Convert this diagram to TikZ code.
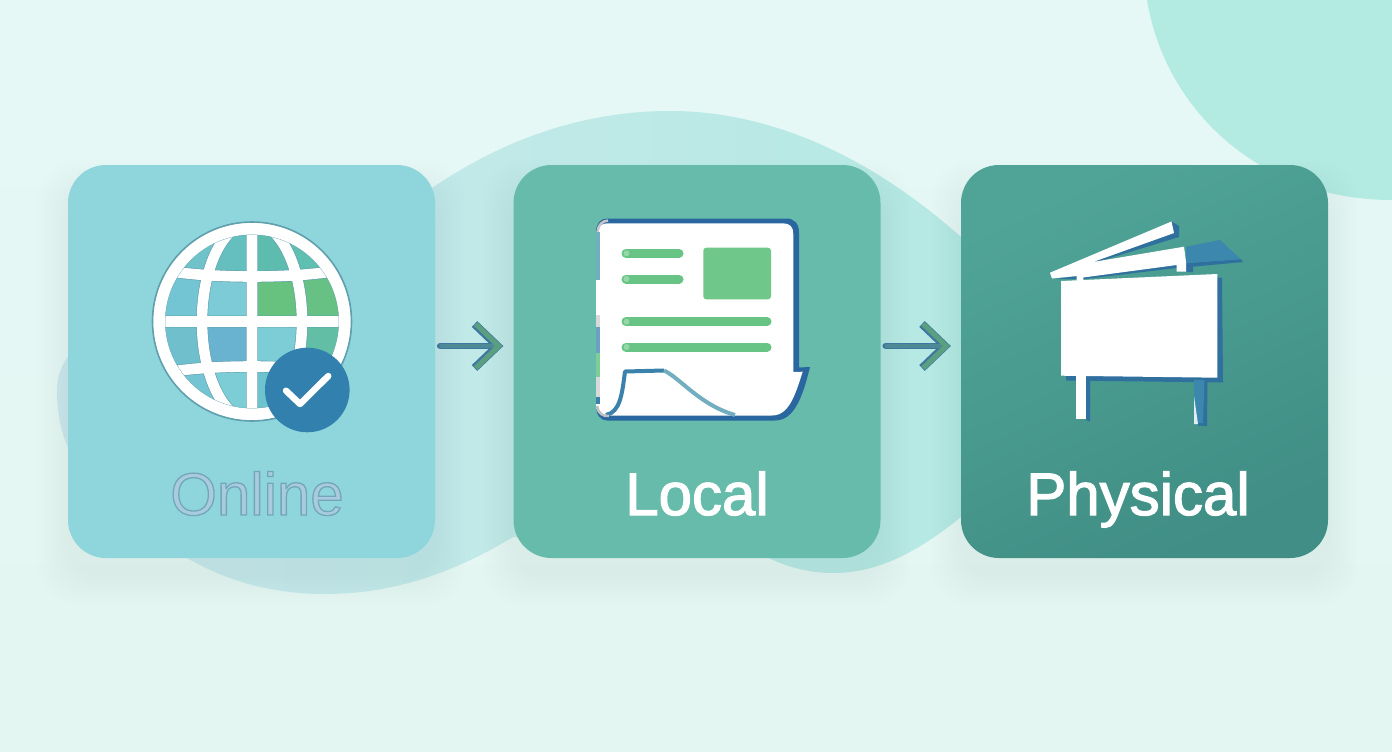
\documentclass[tikz,border=0pt]{standalone}
\usepackage{xcolor}
\usepackage{fontspec}
\setmainfont{Liberation Sans}
\usetikzlibrary{arrows.meta,calc}
\definecolor{bgtop}{HTML}{E5F8F6}
\definecolor{bgbot}{HTML}{E3F6F1}
\definecolor{cornerblob}{HTML}{B3EBE3}
\definecolor{blobleft}{HTML}{CBE9ED}
\definecolor{blobright}{HTML}{B5E9E3}
\definecolor{onlinecol}{HTML}{8FD6DC}
\definecolor{localcol}{HTML}{66BBAA}
\definecolor{physa}{HTML}{50A497}
\definecolor{physb}{HTML}{408E85}
\definecolor{globeedge}{HTML}{5F9FAE}
\definecolor{badgecol}{HTML}{3280AD}
\definecolor{docblue}{HTML}{2A669F}
\definecolor{foldblue}{HTML}{3A82AB}
\definecolor{foldpale}{HTML}{72AEBF}
\definecolor{greenbar}{HTML}{68C484}
\definecolor{greendot}{HTML}{93D8A6}
\definecolor{boardblue}{HTML}{30709F}
\definecolor{roofblue}{HTML}{3B87AE}
\definecolor{arrowblue}{HTML}{3E78A0}
\definecolor{arrowmid}{HTML}{4D8A96}
\definecolor{arrowgreen}{HTML}{5AA080}
\definecolor{onlinetext}{HTML}{A8CCDE}
% outlined text, stroke colour as r g b
\newcommand{\outlined}[3]{\special{pdf:code 2 Tr #2 w #1 RG}#3\special{pdf:code 0 Tr 0 G}}

\begin{document}
\begin{tikzpicture}[x=1pt, y=-1pt,
  card/.style={minimum width=367pt, minimum height=393pt, inner sep=0pt, rounded corners=38pt},
  lbl/.style={anchor=base, inner sep=0pt, font=\fontsize{60}{60}\selectfont},
  bar/.style={greenbar, line width=9pt, line cap=round},
  arrout/.style={-{Straight Barb[length=23pt, width=44pt, line width=8pt]}, arrowblue, line width=6.6pt, line cap=round, shorten >=10pt, shorten <=5pt},
  arrin/.style={-{Straight Barb[length=23pt, width=44pt, line width=5pt, color=arrowgreen]}, arrowmid, line width=3.6pt, line cap=round, shorten >=11pt, shorten <=6pt}]
  \useasboundingbox (0,0) rectangle (1392,752);
  % Background and blobs
  \shade[top color=bgtop, bottom color=bgbot] (0,0) rectangle (1392,752);
  \fill[cornerblob] (1147,0) .. controls (1165,110) and (1260,200) .. (1392,200) -- (1392,0) -- cycle;
  \shade[left color=blobleft, right color=blobright]
    (57,390) .. controls (57,300) and (250,300) .. (432,188)
    .. controls (510,135) and (590,111) .. (670,111)
    .. controls (780,111) and (880,165) .. (961,237) -- (961,517)
    .. controls (920,550) and (880,573) .. (833,573)
    .. controls (810,573) and (785,567) .. (765,556) -- (513,537)
    .. controls (450,575) and (390,594) .. (325,594)
    .. controls (270,594) and (225,580) .. (187,558) -- (68,447)
    .. controls (60,430) and (57,410) .. (57,390) -- cycle;
  % Soft shadows
  \foreach \x in {68,513,961}{
    \foreach \d in {3,6,...,30}{
      \fill[teal!80!black, fill opacity=.004, rounded corners=38pt]
        (\x-\d,190-\d) rectangle (\x+367+\d,575+\d);
    }
  }
  % Cards
  \node[card, fill=onlinecol] (online) at (251.5,361.5) {};
  \node[card, fill=localcol] (local) at (697,361.5) {};
  \node[card, top color=physa, bottom color=physb, shading angle=25] (physical) at (1144.5,361.5) {};
  % Globe
  \begin{scope}
    \clip (252,321.5) circle[radius=92];
    \foreach \ya/\yb/\cl/\cr in {220/275/6FC3C8/5FBFB0, 275/321/74C5D3/68C184, 321/368/6FC0CC/62BFA5, 368/425/74C5D3/62BFA5}{
      \definecolor{cella}{HTML}{\cl}
      \definecolor{cellb}{HTML}{\cr}
      \fill[cella] (150,\ya) rectangle (252,\yb);
      \fill[cellb] (252,\ya) rectangle (354,\yb);
    }
    \begin{scope}
      \clip (252,321.5) ellipse[x radius=50, y radius=99.5];
      \foreach \ya/\yb/\cl/\cr in {220/275/66BFBF/5DBCAE, 275/321/7CCBD6/66C27E, 321/368/6AB3D0/7CCDD6, 368/425/7CCDD6/6DC4CF}{
        \definecolor{cella}{HTML}{\cl}
        \definecolor{cellb}{HTML}{\cr}
        \fill[cella] (202,\ya) rectangle (252,\yb);
        \fill[cellb] (252,\ya) rectangle (302,\yb);
      }
    \end{scope}
    \foreach \w/\c in {11.8/globeedge,10.6/white}{
      \draw[\c, line width=\w pt] (252,222) -- (252,421) (152,321.5) -- (352,321.5)
        (252,321.5) ellipse[x radius=50, y radius=99.5]
        (160,269) .. controls (200,279) and (304,279) .. (344,269)
        (160,374) .. controls (200,364) and (304,364) .. (344,374);
    }
  \end{scope}
  \draw[globeedge, line width=.7pt] (252,321.5) circle[radius=87];
  \draw[white, line width=12pt] (252,321.5) circle[radius=93];
  \draw[globeedge, line width=1.6pt] (252,321.5) circle[radius=99.5];
  % Check badge
  \fill[badgecol] (307.3,390) circle[radius=42.3];
  \draw[white, line width=6.4pt, line cap=round, line join=round] (286,390.7) -- (300,404) -- (328.3,376);
  % Paper sheet
  \fill[docblue] (607,218.5) -- (786,218.5) .. controls (795,218.5) and (799,224) .. (799,233)
    -- (799,367.5) -- (810,367) .. controls (803,395) and (795,420.5) .. (775,420.5) -- (607,420.5)
    .. controls (600,420.5) and (596,414) .. (596,406) -- (596,232) .. controls (596,224) and (600,218.5) .. (607,218.5) -- cycle;
  \fill[white] (597,232) .. controls (598,226) and (602,223.3) .. (608,223.3) -- (783,223.3)
    .. controls (790,223.3) and (793.3,227) .. (793.3,234) -- (793.3,372) -- (802.7,371.7)
    .. controls (796,392) and (790,415.5) .. (772,415.5) -- (606,415.5) .. controls (600,415.5) and (596,412) .. (596,406) -- cycle;
  \foreach \ya/\yb/\c in {232/280/foldpale, 280/315/white, 315/327/gray!30, 327/353/foldblue!75, 353/377/greenbar!85, 377/397/gray!30, 397/404/foldblue}{
    \fill[\c] (596,\ya) rectangle (600,\yb);
  }
  \draw[gray!45, line width=2.5pt] (597.5,232) .. controls (598,225) and (602,221) .. (608,220.5);
  \draw[foldblue, line width=4pt, line join=round] (664,370.5) -- (625,371.5) .. controls (622,395) and (620,412) .. (606,415);
  \draw[foldpale, line width=4pt] (664,370.5) .. controls (680,378) and (700,405) .. (735,415);
  \draw[gray!50, line width=2.5pt] (597,406) .. controls (598,413) and (603,417) .. (609,416);
  \foreach \y/\xe in {253.3/679,279/679,321.7/767,347/767}{
    \draw[bar] (626,\y) -- (\xe,\y);
    \fill[greendot] (626.5,\y) circle[radius=3];
  }
  \fill[greenbar!95!white, rounded corners=3pt] (703.3,247.7) rectangle (771,299.3);
  % Billboard
  \fill[boardblue] (1066,286) -- (1222,277.5) -- (1223,382.5) -- (1066,380.5) -- cycle;
  \fill[boardblue] (1086,378) -- (1090,378) -- (1090,421.5) -- (1086,420) -- cycle;
  \fill[boardblue] (1198,380) -- (1207.5,380) -- (1207,426) -- (1198,425.5) -- cycle;
  \fill[roofblue] (1194,380) -- (1204.5,380) -- (1203,423) -- (1194,423.5) -- cycle;
  \fill[white!85!roofblue] (1194,396) -- (1194,424) -- (1198,424) -- cycle;
  \fill[white] (1076,375) rectangle (1086,419.3);
  \fill[white] (1061,281) -- (1217.3,274) -- (1217.3,377.7) -- (1061,375.7) -- cycle;
  % Billboard roof
  \fill[boardblue] (1171.5,221.5) -- (1179,226) -- (1179,237) -- (1097,262) -- (1093,262) -- (1174,233) -- cycle;
  \fill[boardblue] (1056,279) -- (1186,261) -- (1193,266.5) -- (1193,272) -- (1188,272) -- (1176,268) -- (1085,279) -- cycle;
  \fill[boardblue] (1186,263) -- (1240.7,259) -- (1243,262) -- (1190,267) -- cycle;
  \fill[roofblue] (1186,246.7) -- (1220,240) -- (1240.7,259.3) -- (1186,263.3) -- cycle;
  \fill[white] (1050,272.7) -- (1171.5,221.5) -- (1174,233) -- (1093,262) -- (1184,246.7) -- (1186,262) -- (1186,271.7) -- (1176.7,271.7) -- (1176.7,265) -- (1083.3,277.5) -- (1083.3,282) -- (1076.7,282) -- (1076.7,276) -- (1052,278.5) -- cycle;
  % Labels
  \node[lbl, text=onlinetext] (onlinelabel) at (257,515) {\outlined{0.45 0.65 0.73}{1.3}{Online}};
  \node[lbl, text=white] (locallabel) at (697,515) {\outlined{1 1 1}{1.2}{Local}};
  \node[lbl, text=white] (physicallabel) at (1138,515) {\outlined{1 1 1}{1.2}{Physical}};
  % Arrows
  \foreach \a/\b in {online/local,local/physical}{
    \draw[arrout] ($(\a.east)+(0,-15.5)$) -- ($(\b.west)+(0,-15.5)$);
    \draw[arrin] ($(\a.east)+(0,-15.5)$) -- ($(\b.west)+(0,-15.5)$);
  }
\end{tikzpicture}
\end{document}
